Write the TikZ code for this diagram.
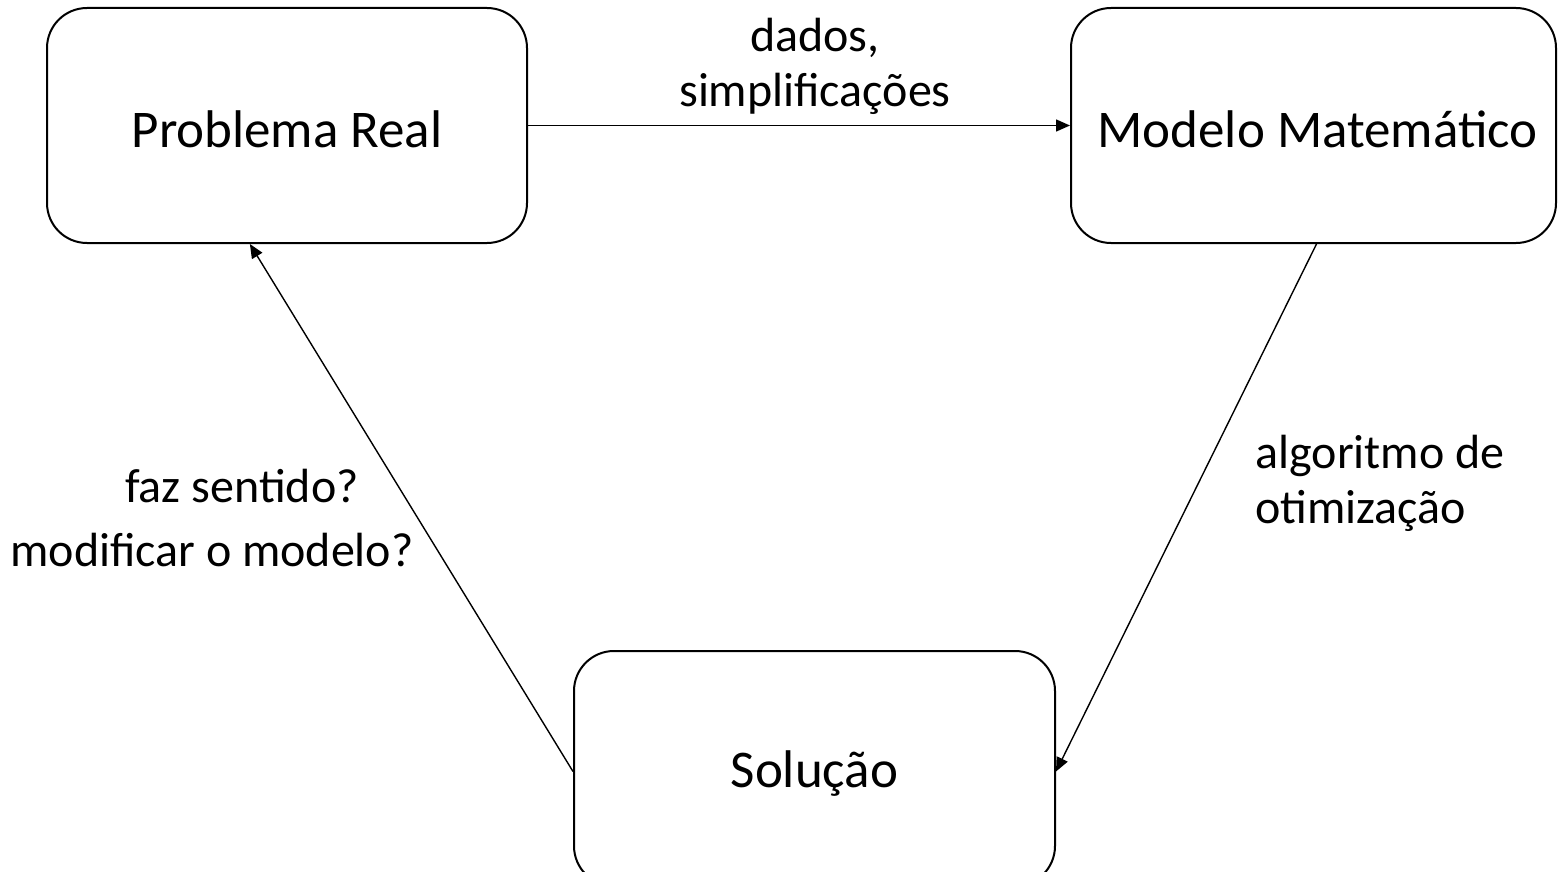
\documentclass[tikz,border=0pt]{standalone}
\usepackage{fontspec}
\setmainfont{Carlito}
\usetikzlibrary{arrows.meta,calc}
\begin{document}
\begin{tikzpicture}[x=0.5pt,y=-0.5pt,
  box/.style={draw=black,line width=1pt,rounded corners=20pt,align=center,
    font=\fontsize{26.5}{31}\selectfont,inner sep=0pt,text height=26pt,text depth=4pt},
  lbl/.style={font=\fontsize{24}{27.5}\selectfont,inner sep=0pt},
  conn/.style={line width=0.7pt,-{Triangle[length=7pt,width=6pt]}}]
\path[use as bounding box] (0,0) rectangle (1558,872);
\node[box,minimum width=240pt,minimum height=117.5pt] (PR) at (287,125.5) {Problema Real};
\node[box,minimum width=242.5pt,minimum height=117.5pt] (MM) at (1313.5,125.5) {\hspace*{4pt}Modelo Matemático};
\node[box,minimum width=240.5pt,minimum height=117.5pt,text depth=7pt] (S) at (814.5,768.5) {Solução};
\coordinate (PRin) at ($(PR.south west)!0.423!(PR.south east)$);
\draw[conn] (PR.east) -- (MM.west);
\draw[conn] ([xshift=1.5pt]MM.south) -- ([yshift=-1.5pt]S.east);
\draw[conn] ([yshift=-1.5pt]S.west) -- (PRin);
\node[lbl,align=center,anchor=north] (l1) at (815,18) {dados,\\simplificações};
\node[lbl,align=left,anchor=north west] (l2) at (1255,435) {algoritmo de\\otimização};
\node[lbl,anchor=base] (l3) at (242,502) {faz sentido?};
\node[lbl,anchor=base] (l4) at (212,566) {modificar o modelo?};
\end{tikzpicture}
\end{document}
